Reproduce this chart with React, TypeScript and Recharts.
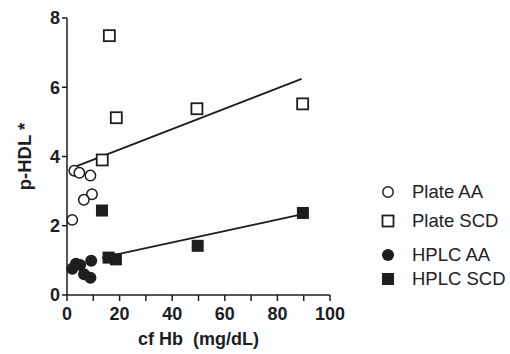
import {
  ReferenceLine,
  Scatter,
  ScatterChart,
  XAxis,
  YAxis,
} from "recharts";

// values (cf Hb in mg/dL, p-HDL)
const plateAA = [
  { x: 2.8, y: 3.59 },
  { x: 4.7, y: 3.53 },
  { x: 8.9, y: 3.45 },
  { x: 9.5, y: 2.91 },
  { x: 6.4, y: 2.75 },
  { x: 2.0, y: 2.17 },
];

const plateSCD = [
  { x: 13.4, y: 3.9 },
  { x: 16.1, y: 7.49 },
  { x: 18.75, y: 5.12 },
  { x: 49.4, y: 5.38 },
  { x: 89.6, y: 5.52 },
];

const hplcAA = [
  { x: 2.0, y: 0.76 },
  { x: 3.4, y: 0.9 },
  { x: 5.0, y: 0.87 },
  { x: 6.5, y: 0.6 },
  { x: 8.9, y: 0.5 },
  { x: 9.2, y: 0.99 },
];

const hplcSCD = [
  { x: 13.3, y: 2.44 },
  { x: 15.8, y: 1.08 },
  { x: 18.6, y: 1.03 },
  { x: 49.7, y: 1.42 },
  { x: 89.7, y: 2.37 },
];

// fitted lines, endpoints as drawn
const plateFit = [
  { x: 3.2, y: 3.71 },
  { x: 89.2, y: 6.24 },
];
const hplcFit = [
  { x: 13.3, y: 1.08 },
  { x: 88.8, y: 2.32 },
];

const xTicks = [0, 10, 20, 30, 40, 50, 60, 70, 80, 90, 100];
const yTicks = [0, 2, 4, 6, 8];
const seriesNames = ["Plate AA", "Plate SCD", "HPLC AA", "HPLC SCD"];

const INK = "#1e1e1e";
const FONT = '"Liberation Sans", Arial, Helvetica, sans-serif';

type Kind = "openCircle" | "openSquare" | "dot" | "block";
const kinds: Kind[] = ["openCircle", "openSquare", "dot", "block"];

function Marker({ kind, cx, cy }: { kind: Kind; cx: number; cy: number }) {
  if (kind === "openCircle")
    return <circle cx={cx} cy={cy} r={5.2} fill="#fff" stroke={INK} strokeWidth={1.5} />;
  if (kind === "openSquare")
    return (
      <rect x={cx - 5.5} y={cy - 5.5} width={11} height={11} fill="#fff" stroke={INK} strokeWidth={1.8} />
    );
  if (kind === "dot") return <circle cx={cx} cy={cy} r={6} fill={INK} />;
  return <rect x={cx - 6} y={cy - 6} width={12} height={12} fill={INK} />;
}

const shapeFor = (kind: Kind) => (p: any) =>
  <Marker kind={kind} cx={p.cx} cy={p.cy} />;

// legend rows sit at uneven heights in the original (page y of each row centre)
const legendRowY = [192, 221, 255, 279];

function LegendBox() {
  return (
    <div style={{ position: "absolute", left: 375, top: 0, fontFamily: FONT }}>
      {seriesNames.map((name, i) => (
        <div
          key={name}
          style={{
            position: "absolute",
            left: 0,
            top: legendRowY[i] - 10,
            height: 20,
            display: "flex",
            alignItems: "center",
          }}
        >
          <svg width={26} height={20}>
            <Marker kind={kinds[i]} cx={13} cy={10} />
          </svg>
          <span style={{ marginLeft: 11, fontSize: 18.5, color: "#222", whiteSpace: "nowrap" }}>
            {name}
          </span>
        </div>
      ))}
    </div>
  );
}

export default function App() {
  return (
    <div style={{ position: "relative", width: 510, height: 354, background: "#fcfdfe" }}>
      <style>{"body{margin:0}"}</style>
      <ScatterChart
        width={510}
        height={354}
        margin={{ top: 18, right: 180, bottom: 0, left: 0 }}
      >
        <XAxis
          type="number"
          dataKey="x"
          domain={[0, 100]}
          ticks={xTicks}
          interval={0}
          tickFormatter={(v: number) => (v % 20 === 0 ? String(v) : "")}
          height={59}
          tickSize={6}
          tickMargin={6}
          stroke={INK}
          strokeWidth={1.5}
          tick={{ fill: INK, fontSize: 18, fontWeight: 700, fontFamily: FONT }}
          label={{
            value: "cf Hb\u00a0 (mg/dL)",
            position: "insideBottom",
            offset: 9,
            style: { fill: INK, fontSize: 18, fontWeight: 700, fontFamily: FONT },
          }}
        />
        <YAxis
          type="number"
          dataKey="y"
          domain={[0, 8]}
          ticks={yTicks}
          interval={0}
          width={67}
          tickSize={5}
          tickMargin={2}
          stroke={INK}
          strokeWidth={1.5}
          tick={{ fill: INK, fontSize: 18, fontWeight: 700, fontFamily: FONT }}
          label={{
            value: "p-HDL *",
            angle: -90,
            position: "insideLeft",
            offset: 24,
            style: { fill: INK, fontSize: 18.5, fontWeight: 700, fontFamily: FONT, textAnchor: "middle" },
          }}
        />
        <ReferenceLine segment={plateFit} stroke={INK} strokeWidth={1.8} ifOverflow="visible" />
        <ReferenceLine segment={hplcFit} stroke={INK} strokeWidth={1.8} ifOverflow="visible" />
        <Scatter name={seriesNames[0]} data={plateAA} shape={shapeFor("openCircle")} isAnimationActive={false} />
        <Scatter name={seriesNames[1]} data={plateSCD} shape={shapeFor("openSquare")} isAnimationActive={false} />
        <Scatter name={seriesNames[2]} data={hplcAA} shape={shapeFor("dot")} isAnimationActive={false} />
        <Scatter name={seriesNames[3]} data={hplcSCD} shape={shapeFor("block")} isAnimationActive={false} />
      </ScatterChart>
      <LegendBox />
    </div>
  );
}
